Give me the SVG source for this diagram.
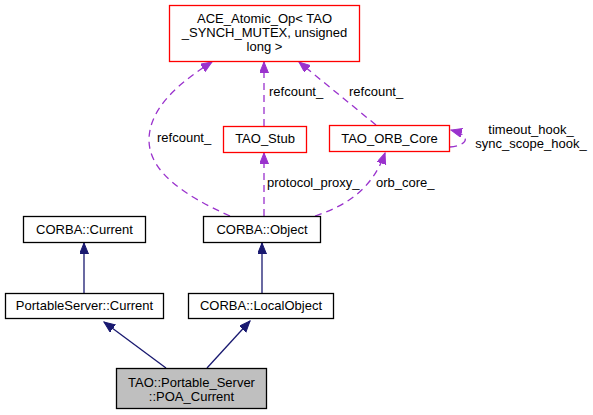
<svg xmlns="http://www.w3.org/2000/svg" width="593" height="415" viewBox="0 0 593 415">
<style>
text{font-family:"Liberation Sans",Arial,sans-serif;font-size:13px;fill:#000}
.n{text-anchor:middle}
.box{fill:#ffffff;stroke:#000000;stroke-width:1.3}
.red{fill:#ffffff;stroke:#ff0000;stroke-width:1.3}
.inh{fill:none;stroke:#191970;stroke-width:1.3}
.use{fill:none;stroke:#9a32cd;stroke-width:1.3;stroke-dasharray:7,5}
</style>
<defs>
<marker id="an" markerUnits="userSpaceOnUse" markerWidth="12" markerHeight="10" refX="11" refY="4.5" orient="auto">
<path d="M0,0 L11,4.5 L0,9 z" fill="#191970" stroke="#191970"/>
</marker>
<marker id="ap" markerUnits="userSpaceOnUse" markerWidth="12" markerHeight="10" refX="11" refY="4.5" orient="auto">
<path d="M0,0 L11,4.5 L0,9 z" fill="#9a32cd" stroke="#9a32cd"/>
</marker>
</defs>
<g id="edges">
<path class="inh" d="M84,293 L84,243" marker-end="url(#an)"/>
<path class="inh" d="M262,293 L262,243" marker-end="url(#an)"/>
<path class="inh" d="M166,368 L104,322" marker-end="url(#an)"/>
<path class="inh" d="M207,368 L250,321" marker-end="url(#an)"/>
<path class="use" d="M230,216 C185,196 149,172 149,140 C149,108 180,82 212,62" marker-end="url(#ap)"/>
<path class="use" d="M264,126 L264,62" marker-end="url(#ap)"/>
<path class="use" d="M376,125 L299,62" marker-end="url(#ap)"/>
<path class="use" d="M264,216 L264,153" marker-end="url(#ap)"/>
<path class="use" d="M315,216 C345,206 372,190 385,153" marker-end="url(#ap)"/>
<path class="use" d="M450,147 C466,146 474,136 451,130" marker-end="url(#ap)"/>
<text x="157" y="142">refcount_</text>
<text x="269" y="96">refcount_</text>
<text x="349" y="96">refcount_</text>
<text x="267" y="187">protocol_proxy_</text>
<text x="376" y="187">orb_core_</text>
<text class="n" x="531" y="134">timeout_hook_</text>
<text class="n" x="531" y="148">sync_scope_hook_</text>
</g>
<g id="ace">
<rect class="red" x="169.5" y="5.5" width="190" height="56" stroke="#ff0000"/>
<text class="n" x="264.5" y="22.5">ACE_Atomic_Op&lt; TAO</text>
<text class="n" x="264.5" y="36.5">_SYNCH_MUTEX, unsigned</text>
<text class="n" x="264.5" y="50.5">long &gt;</text>
</g>
<g id="tao_stub">
<rect class="red" x="223.5" y="126.5" width="83" height="26" stroke="#ff0000"/>
<text class="n" x="265" y="143">TAO_Stub</text>
</g>
<g id="orb_core">
<rect class="red" x="329.5" y="125.5" width="120" height="26" stroke="#ff0000"/>
<text class="n" x="389.5" y="142.5">TAO_ORB_Core</text>
</g>
<g id="corba_current">
<rect class="box" x="23.5" y="216.5" width="122" height="26"/>
<text class="n" x="84.5" y="233.5">CORBA::Current</text>
</g>
<g id="corba_object">
<rect class="box" x="203.5" y="216.5" width="117" height="26"/>
<text class="n" x="262" y="233.5">CORBA::Object</text>
</g>
<g id="ps_current">
<rect class="box" x="5.5" y="293.5" width="158" height="25"/>
<text class="n" x="84.5" y="310">PortableServer::Current</text>
</g>
<g id="local_object">
<rect class="box" x="188.5" y="293.5" width="145" height="25"/>
<text class="n" x="261" y="310">CORBA::LocalObject</text>
</g>
<g id="poa_current">
<rect x="116.5" y="368.5" width="150" height="40" fill="#bfbfbf" stroke="#000000" stroke-width="1.3"/>
<text class="n" x="191.5" y="387">TAO::Portable_Server</text>
<text class="n" x="191.5" y="401">::POA_Current</text>
</g>
</svg>
